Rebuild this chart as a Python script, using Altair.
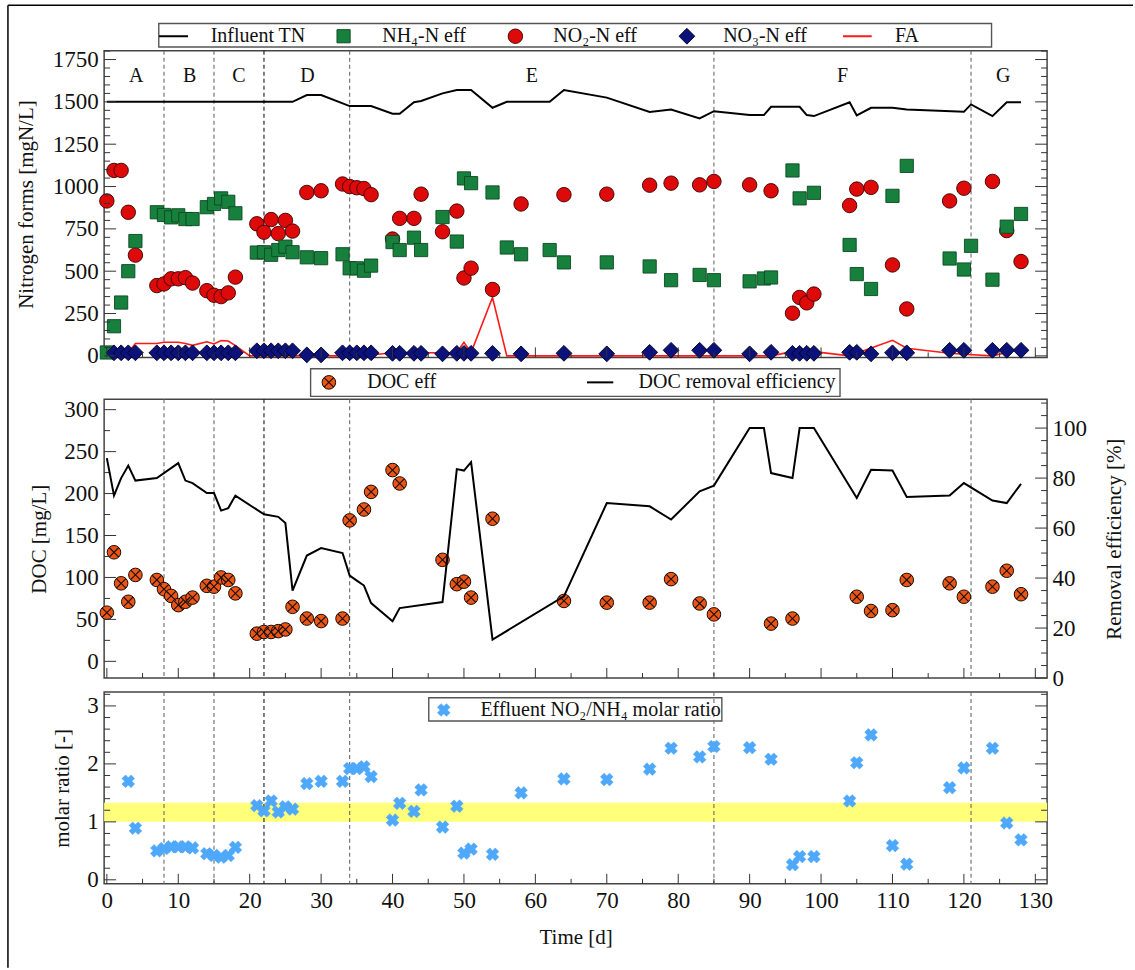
import altair as alt
import pandas as pd

# ---------------- data ----------------
TN_d = [0, 26, 28, 30, 34, 37, 40, 41, 43, 44, 47, 49, 51, 54, 56, 62, 64, 70, 76, 79, 83, 85,
        90, 92, 93, 97, 98, 99, 104, 105, 107, 110, 112, 120, 121, 124, 126, 128]
TN_v = [1500, 1500, 1540, 1540, 1475, 1475, 1430, 1430, 1498, 1505, 1550, 1570, 1570, 1465, 1500, 1500,
        1570, 1525, 1440, 1455, 1402, 1445, 1422, 1422, 1471, 1471, 1422, 1416, 1498, 1420, 1465, 1465,
        1455, 1441, 1485, 1416, 1498, 1498]

NH4_d = [0, 1, 2, 3, 4, 7, 8, 9, 10, 11, 12, 14, 15, 16, 17, 18, 21, 22, 23, 24, 25, 26, 28, 30,
         33, 34, 35, 36, 37, 40, 41, 43, 44, 47, 49, 50, 51, 54, 56, 58, 62, 64, 70, 76, 79, 83, 85,
         90, 92, 93, 96, 97, 99, 104, 105, 107, 110, 112, 118, 120, 121, 124, 126, 128]
NH4_v = [20, 175, 315, 500, 678, 848, 832, 818, 830, 808, 808, 878, 897, 930, 910, 842, 610, 612, 597,
         625, 645, 612, 582, 577, 600, 517, 517, 503, 533, 672, 625, 698, 625, 820, 675, 1048, 1020,
         965, 640, 600, 625, 552, 552, 528, 447, 478, 447, 440, 457, 463, 1095, 930, 963, 655, 483,
         395, 945, 1122, 575, 510, 650, 450, 763, 838]

NO2_d = [0, 1, 2, 3, 4, 7, 8, 9, 10, 11, 12, 14, 15, 16, 17, 18, 21, 22, 23, 24, 25, 26, 28, 30,
         33, 34, 35, 36, 37, 40, 41, 43, 44, 47, 49, 50, 51, 54, 58, 64, 70, 76, 79, 83, 85,
         90, 93, 96, 97, 98, 99, 104, 105, 107, 110, 112, 118, 120, 124, 126, 128]
NO2_v = [915, 1095, 1095, 848, 595, 415, 425, 455, 455, 462, 430, 385, 358, 350, 372, 465, 780, 730,
         805, 722, 800, 737, 965, 975, 1015, 1000, 993, 988, 952, 690, 812, 812, 955, 733, 855, 460,
         518, 392, 897, 952, 955, 1008, 1020, 1010, 1030, 1010, 975, 252, 345, 313, 365, 888, 985,
         995, 537, 277, 915, 990, 1030, 740, 557]

NO3_d = [1, 2, 3, 4, 7, 8, 9, 10, 11, 12, 14, 15, 16, 17, 18, 21, 22, 23, 24, 25, 26, 28, 30,
         33, 34, 35, 36, 37, 40, 41, 43, 44, 47, 49, 50, 51, 54, 58, 64, 70, 76, 79, 83, 85,
         90, 93, 96, 97, 98, 99, 104, 105, 107, 110, 112, 118, 120, 124, 126, 128]
NO3_v = [18, 18, 18, 18, 18, 18, 18, 18, 18, 18, 18, 18, 18, 18, 18, 30, 30, 30, 30, 30, 30, 6, 6,
         18, 18, 18, 18, 18, 15, 15, 15, 15, 12, 15, 15, 15, 15, 12, 15, 12, 21, 33, 33, 33,
         12, 21, 15, 15, 15, 15, 21, 21, 12, 18, 18, 33, 33, 33, 33, 33]

FA_d = [3, 4, 7, 8, 10, 11, 12, 14, 15, 16, 17, 18, 20, 26, 30, 34, 37, 40, 44, 47, 49, 50, 51,
        54, 56, 64, 70, 76, 85, 90, 93, 96, 99, 104, 110, 112, 118, 120, 124, 126]
FA_v = [20, 73, 73, 80, 80, 73, 62, 83, 70, 90, 88, 60, 0, 0, 0, 0, 5, 18, 18, 18, 20, 80, 20,
        345, 0, 0, 0, 0, 0, 0, 0, 25, 25, 0, 92, 45, 15, 10, 0, 20]

PHASE_labels = ["A", "B", "C", "D", "E", "F", "G"]
PHASE_d = [4.1, 11.6, 18.5, 28.1, 59.5, 103, 125.5]
PHASE_y = 1652
PHASE_bounds = [8, 15, 22, 34, 85, 121]

DOC_d = [0, 1, 2, 3, 4, 7, 8, 9, 10, 11, 12, 14, 15, 16, 17, 18, 21, 22, 23, 24, 25, 26, 28, 30,
         33, 34, 36, 37, 40, 41, 47, 49, 50, 51, 54, 64, 70, 76, 79, 83, 85, 93, 96, 105, 107,
         110, 112, 118, 120, 124, 126, 128]
DOC_v = [58, 130, 93, 71, 103, 97, 86, 78, 67, 71, 76, 90, 89, 100, 97, 81, 33, 35, 35, 36, 38, 65,
         51, 48, 51, 168, 181, 202, 228, 212, 121, 92, 95, 76, 170, 72, 70, 70, 98, 69, 56, 45, 51,
         77, 60, 61, 97, 93, 77, 89, 108, 80]

EFF_d = [0, 1, 2, 3, 4, 7, 10, 11, 12, 14, 15, 16, 17, 18, 22, 24, 25, 26, 28, 30, 33, 34, 35, 36,
         37, 40, 41, 47, 49, 50, 51, 54, 64, 70, 76, 79, 83, 85, 90, 92, 93, 96, 97, 99, 105, 107,
         110, 112, 118, 120, 124, 126, 128]
EFF_v = [88, 73, 80, 85, 79, 80, 86, 79, 78, 74, 74, 67, 68, 73, 65.5, 64.5, 62, 35, 49, 52, 50, 41,
         39, 37, 30, 22.7, 28, 30.4, 83.6, 83, 86.4, 15.4, 32.7, 70, 68.7, 63.4, 74.7, 77, 100, 100,
         82, 80, 100, 100, 72, 83.3, 83, 72.4, 73, 78, 71, 70, 77.7]

RATIO_d = [3, 4, 7, 8, 9, 10, 11, 12, 14, 15, 16, 17, 18, 21, 22, 23, 24, 25, 26, 28, 30, 33, 34, 35,
           36, 37, 40, 41, 43, 44, 47, 49, 50, 51, 54, 58, 64, 70, 76, 79, 83, 85, 90, 93, 96, 97,
           99, 104, 105, 107, 110, 112, 118, 120, 124, 126, 128]
RATIO_v = [1.70, 0.89, 0.50, 0.54, 0.57, 0.57, 0.57, 0.55, 0.45, 0.42, 0.39, 0.42, 0.56, 1.28, 1.19,
           1.36, 1.17, 1.26, 1.22, 1.66, 1.70, 1.70, 1.92, 1.92, 1.95, 1.78, 1.03, 1.32, 1.18, 1.55,
           0.91, 1.27, 0.46, 0.53, 0.44, 1.50, 1.74, 1.73, 1.91, 2.27, 2.12, 2.30, 2.28, 2.08, 0.26,
           0.40, 0.40, 1.36, 2.02, 2.50, 0.59, 0.27, 1.59, 1.93, 2.27, 0.98, 0.69]
BAND = [1.0, 1.33]

TOP_TICKS = list(range(0, 1751, 250))
TOP_MINOR = [v for v in range(0, 1801, 50) if v % 250 != 0]
DOC_TICKS = list(range(0, 301, 50))
DOC_MINOR = [v for v in range(25, 301, 50)]
EFF_TICKS = list(range(0, 101, 20))
EFF_MINOR = [v for v in range(5, 111, 5) if v % 20 != 0]
R_TICKS = [0, 1, 2, 3]
R_MINOR = [0.2, 0.4, 0.6, 0.8, 1.2, 1.4, 1.6, 1.8, 2.2, 2.4, 2.6, 2.8, 3.2]
X_TICKS = list(range(0, 131, 10))
X_MINOR = list(range(5, 131, 10))

# ---------------- layout / style ----------------
FONT = "Liberation Serif"
W = 944
H1, H2, H3 = 307, 279, 192
TXT = "#111111"
TICKC = "#333333"
LBL = 23
TTL = 21

XS = alt.Scale(domain=[-0.38, 131.65], nice=False, zero=False)
Y1S = alt.Scale(domain=[-9, 1802], nice=False, zero=False)
Y2S = alt.Scale(domain=[-19.9, 312.3], nice=False, zero=False)
Y2RS = alt.Scale(domain=[0, 111.5], nice=False, zero=False)
Y3S = alt.Scale(domain=[-0.069, 3.24], nice=False, zero=False)


def yaxis(title, values, h, tx, orient="left", pad=6):
    return alt.Axis(title=title, values=values, orient=orient, ticks=False, tickSize=0, domain=False,
                    grid=False, labelPadding=pad, labelFontSize=LBL, labelFont=FONT, labelColor=TXT,
                    format="d", titleFont=FONT, titleFontSize=TTL, titleFontWeight="normal",
                    titleColor=TXT, titleAngle=270, titleAlign="center", titleBaseline="middle",
                    titleX=tx, titleY=h / 2, labelFlush=False)


Y1AX = yaxis("Nitrogen forms [mgN/L]", TOP_TICKS, H1, -78)
Y2AX = yaxis("DOC [mg/L]", DOC_TICKS, H2, -65)
Y2RAX = yaxis("Removal efficiency [%]", EFF_TICKS, H2, 67, orient="right", pad=5)
Y3AX = yaxis("molar ratio [-]", R_TICKS, H3, -41.5)
XAX = alt.Axis(title="Time [d]", values=X_TICKS, ticks=False, tickSize=0, domain=False, grid=False,
               labelPadding=6, labelFontSize=LBL, labelFont=FONT, labelColor=TXT, format="d",
               labelFlush=False, titleFont=FONT, titleFontSize=TTL, titleFontWeight="normal",
               titleColor=TXT, titleX=W / 2, titleY=54, titleBaseline="middle", titleAlign="center")

one = pd.DataFrame({"k": [0]})


def dfxy(d, v):
    return pd.DataFrame({"d": d, "y": v})


def xenc(axis):
    return alt.X("d:Q", scale=XS, axis=axis)


def y_ticks(vals, scale, axis, length, side):
    x0, x1 = (0, length) if side == "left" else (W - length, W)
    return alt.Chart(pd.DataFrame({"y": vals})).mark_rule(color=TICKC, strokeWidth=1).encode(
        y=alt.Y("y:Q", scale=scale, axis=axis), x=alt.value(x0), x2=alt.value(x1))


def x_ticks(vals, h, length, axis):
    return alt.Chart(pd.DataFrame({"d": vals})).mark_rule(color=TICKC, strokeWidth=1).encode(
        x=xenc(axis), y=alt.value(h - length), y2=alt.value(h))


def bounds_layer(axis):
    return alt.Chart(pd.DataFrame({"d": PHASE_bounds})).mark_rule(
        strokeDash=[4, 3], strokeWidth=1.1).encode(
        x=xenc(axis),
        color=alt.condition(alt.datum.d == 22, alt.value("#1a1a1a"), alt.value("#6a6a6a")))


def vrect(x0, x1, y0, y1, fill="white"):
    return alt.Chart(one).mark_rect(fill=fill, stroke="#555555", strokeWidth=1.4).encode(
        x=alt.value(x0), x2=alt.value(x1), y=alt.value(y0), y2=alt.value(y1))


def vtext(s, x, y, size=20):
    return alt.Chart(one).mark_text(text=s, align="left", baseline="middle", font=FONT,
                                    fontSize=size, color=TXT).encode(x=alt.value(x), y=alt.value(y))


def vline(x0, x1, y, color, w=2):
    return alt.Chart(one).mark_rule(color=color, strokeWidth=w).encode(
        x=alt.value(x0), x2=alt.value(x1), y=alt.value(y))


def vsym(x, y, **kw):
    return alt.Chart(one).mark_point(**kw).encode(x=alt.value(x), y=alt.value(y))


SQ = dict(shape="square", filled=True, size=175, fill="#16803c", stroke="#0b4a22", strokeWidth=0.9,
          opacity=1)
CI = dict(shape="circle", filled=True, size=210, fill="#de0a0a", stroke="#3a0000", strokeWidth=0.9,
          opacity=1)
DI = dict(shape="diamond", filled=True, size=250, fill="#0b127a", stroke="#000020", strokeWidth=0.9,
          opacity=1)
DOCC = dict(shape="circle", filled=True, size=185, fill="#ee5515", stroke="#1a0a00", strokeWidth=1,
            opacity=1)
DOCX = dict(shape="M-1,-1L1,1M-1,1L1,-1", filled=False, size=92, stroke="#111111", strokeWidth=1.1,
            opacity=1)
RX = dict(shape="cross", angle=45, filled=True, size=165, fill="#4ea8fb", stroke="#4ea8fb",
          strokeWidth=0.5, opacity=1)

# ---------------- top panel ----------------
y1 = alt.Y("y:Q", scale=Y1S, axis=Y1AX)
top_layers = [
    bounds_layer(None),
    alt.Chart(dfxy(TN_d, TN_v)).mark_line(color="#000000", strokeWidth=2).encode(x=xenc(None), y=y1),
    alt.Chart(dfxy(FA_d, FA_v)).mark_line(color="#ff1a1a", strokeWidth=1.6).encode(x=xenc(None), y=y1),
    alt.Chart(dfxy(NO2_d, NO2_v)).mark_point(**CI).encode(x=xenc(None), y=y1),
    alt.Chart(dfxy(NH4_d, NH4_v)).mark_point(**SQ).encode(x=xenc(None), y=y1),
    alt.Chart(dfxy(NO3_d, NO3_v)).mark_point(**DI).encode(x=xenc(None), y=y1),
    alt.Chart(pd.DataFrame({"d": PHASE_d, "y": [PHASE_y] * len(PHASE_d), "t": PHASE_labels}))
    .mark_text(font=FONT, fontSize=20, color=TXT, baseline="middle", align="center")
    .encode(x=xenc(None), y=y1, text="t:N"),
    y_ticks(TOP_TICKS, Y1S, Y1AX, 12, "left"),
    y_ticks(TOP_MINOR, Y1S, Y1AX, 6, "left"),
    y_ticks(TOP_TICKS, Y1S, Y1AX, 12, "right"),
    y_ticks(TOP_MINOR, Y1S, Y1AX, 6, "right"),
    x_ticks(X_TICKS, H1, 10, None),
    x_ticks(X_MINOR, H1, 5, None),
    # legend
    vrect(54.7, 888.4, -27.2, -3.8),
    vline(55, 84, -14.5, "#000000", 2),
    vtext("Influent TN", 106.7, -14.5),
    vsym(239.7, -14.5, **SQ),
    vtext("NH\u2084-N eff", 278.4, -14.5),
    vsym(411.7, -14.5, **CI),
    vtext("NO\u2082-N eff", 449.7, -14.5),
    vsym(583.4, -14.5, **DI),
    vtext("NO\u2083-N eff", 619.7, -14.5),
    vline(739.7, 768.4, -14.5, "#ff1a1a", 2),
    vtext("FA", 791.7, -14.5),
    # outer frame (top and left edge)
    alt.Chart(one).mark_rule(color="#000000", strokeWidth=1.5).encode(
        x=alt.value(-96.3), y=alt.value(-45.5), y2=alt.value(918)),
    alt.Chart(one).mark_rule(color="#000000", strokeWidth=1.5).encode(
        x=alt.value(-96.3), x2=alt.value(1030), y=alt.value(-45.5)),
]
top = alt.layer(*top_layers).properties(width=W, height=H1)

spacer = alt.Chart(one).mark_point(opacity=0).encode(x=alt.value(0), y=alt.value(0)).properties(
    width=W, height=13.5, view=alt.ViewBackground(stroke="transparent", strokeWidth=0))

# ---------------- middle panel ----------------
y2 = alt.Y("y:Q", scale=Y2S, axis=Y2AX)
y2r = alt.Y("y:Q", scale=Y2RS, axis=Y2RAX)
left_group = alt.layer(
    bounds_layer(None),
    alt.Chart(dfxy(DOC_d, DOC_v)).mark_point(**DOCC).encode(x=xenc(None), y=y2),
    alt.Chart(dfxy(DOC_d, DOC_v)).mark_point(**DOCX).encode(x=xenc(None), y=y2),
    y_ticks(DOC_TICKS, Y2S, Y2AX, 12, "left"),
    y_ticks(DOC_MINOR, Y2S, Y2AX, 6, "left"),
    x_ticks(X_TICKS, H2, 10, None),
    x_ticks(X_MINOR, H2, 5, None),
    vrect(206.7, 736.7, -30.7, -3),
    vsym(225, -17, **DOCC),
    vsym(225, -17, **DOCX),
    vtext("DOC eff", 263.4, -17),
    vline(483.4, 509.7, -17, "#000000", 2),
    vtext("DOC removal efficiency", 535, -17),
)
right_group = alt.layer(
    alt.Chart(dfxy(EFF_d, EFF_v)).mark_line(color="#000000", strokeWidth=2).encode(x=xenc(None), y=y2r),
    y_ticks(EFF_TICKS, Y2RS, Y2RAX, 12, "right"),
    y_ticks(EFF_MINOR, Y2RS, Y2RAX, 6, "right"),
)
mid = alt.layer(left_group, right_group).resolve_scale(y="independent").properties(width=W, height=H2)

# ---------------- bottom panel ----------------
y3 = alt.Y("y:Q", scale=Y3S, axis=Y3AX)
bot = alt.layer(
    alt.Chart(pd.DataFrame({"y": [BAND[0]], "y2": [BAND[1]]})).mark_rect(fill="#ffff7a", opacity=1).encode(
        y=y3, y2="y2:Q", x=alt.value(0), x2=alt.value(W)),
    vrect(325, 618.4, 5.7, 29),
    bounds_layer(XAX),
    alt.Chart(dfxy(RATIO_d, RATIO_v)).mark_point(**RX).encode(x=xenc(XAX), y=y3),
    y_ticks(R_TICKS, Y3S, Y3AX, 12, "left"),
    y_ticks(R_MINOR, Y3S, Y3AX, 6, "left"),
    y_ticks(R_TICKS, Y3S, Y3AX, 12, "right"),
    y_ticks(R_MINOR, Y3S, Y3AX, 6, "right"),
    x_ticks(X_TICKS, H3, 10, XAX),
    x_ticks(X_MINOR, H3, 5, XAX),
    vsym(340, 18, **RX),
    vtext("Effluent NO\u2082/NH\u2084 molar ratio", 376.7, 18),
).properties(width=W, height=H3)

chart = alt.vconcat(top, spacer, mid, bot, spacing=14, bounds="flush").properties(
    padding={"left": 6.25, "top": 3.25, "right": 0, "bottom": 0},
    background="white",
).configure(font=FONT).configure_axis(
    labelFont=FONT, titleFont=FONT, labelFontSize=LBL, titleFontSize=TTL,
    labelColor=TXT, titleColor=TXT, titleFontWeight="normal",
).configure_text(font=FONT).configure_view(stroke="#444444", strokeWidth=1.5)

chart.save("out.html", embed_options={"renderer": "svg", "actions": False})
